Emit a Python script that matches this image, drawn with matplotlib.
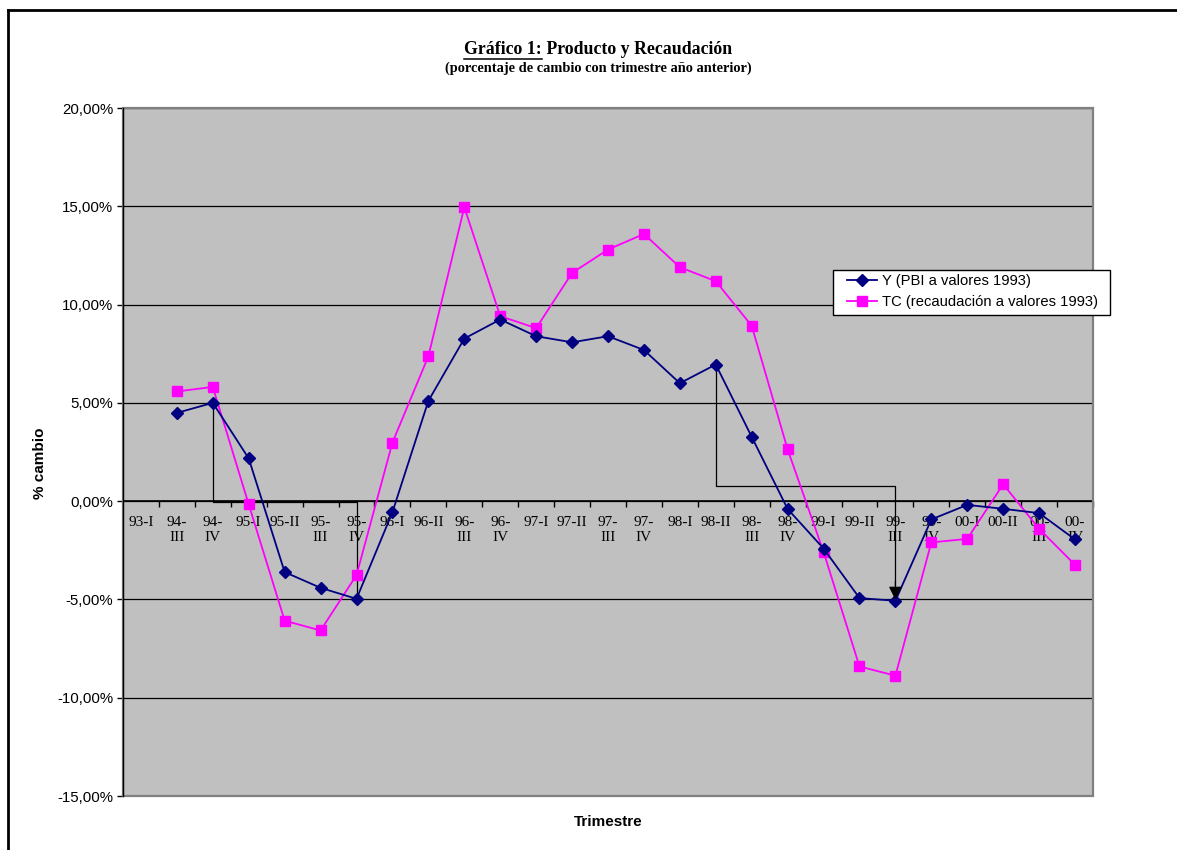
import matplotlib

matplotlib.use("Agg")
import matplotlib.pyplot as plt
from matplotlib import patches
from matplotlib.lines import Line2D
from matplotlib.ticker import FuncFormatter, MultipleLocator

W, H = 1177, 850

# ---- data ------------------------------------------------------------------
trimestres = ["93-I", "94-\nIII", "94-\nIV", "95-I", "95-II", "95-\nIII", "95-\nIV",
              "96-I", "96-II", "96-\nIII", "96-\nIV", "97-I", "97-II", "97-\nIII",
              "97-\nIV", "98-I", "98-II", "98-\nIII", "98-\nIV", "99-I", "99-II",
              "99-\nIII", "99-\nIV", "00-I", "00-II", "00-\nIII", "00-\nIV"]
# first quarter (93-I) has no value
y_pbi = [None, 4.49, 5.00, 2.17, -3.61, -4.41, -4.97, -0.56, 5.10, 8.27, 9.24, 8.39,
         8.08, 8.39, 7.69, 6.00, 6.95, 3.27, -0.40, -2.41, -4.93, -5.07, -0.93,
         -0.19, -0.39, -0.61, -1.95]
tc_rec = [None, 5.58, 5.81, -0.17, -6.08, -6.58, -3.76, 2.98, 7.37, 14.95, 9.41, 8.80,
          11.61, 12.80, 13.59, 11.90, 11.19, 8.92, 2.63, -2.58, -8.41, -8.88, -2.10,
          -1.92, 0.86, -1.41, -3.24]

NAVY = "#000080"
MAGENTA = "#ff00ff"
PLOT_BG = "#c0c0c0"
SERIF = "Liberation Serif"
SANS = "Liberation Sans"

fig = plt.figure(figsize=(W / 100, H / 100), dpi=100)
fig.patch.set_facecolor("white")

# outer chart frame (left + top edges visible, rest runs off the image)
fig.add_artist(Line2D([8 / W, 8 / W], [0, 1 - 10 / H], color="black", lw=2,
                      transform=fig.transFigure))
fig.add_artist(Line2D([8 / W, 1], [1 - 10 / H, 1 - 10 / H], color="black", lw=2,
                      transform=fig.transFigure))

ax = fig.add_axes([123 / W, 1 - 796 / H, 970 / W, 688 / H])
ax.set_facecolor(PLOT_BG)

x = list(range(len(trimestres)))
xs = [i for i, v in zip(x, y_pbi) if v is not None]
ax.plot(xs, [v for v in y_pbi if v is not None], color=NAVY, lw=1.3, marker="D",
        ms=6, mfc=NAVY, mec=NAVY, zorder=5, label="Y (PBI a valores 1993)")
ax.plot(xs, [v for v in tc_rec if v is not None], color=MAGENTA, lw=1.3, marker="s",
        ms=7.5, mfc=MAGENTA, mec=MAGENTA, zorder=4,
        label="TC (recaudación a valores 1993)")

ax.set_xlim(-0.5, len(trimestres) - 0.5)
ax.set_ylim(-15, 20)

# y axis
ax.yaxis.set_major_locator(MultipleLocator(5))
ax.yaxis.set_major_formatter(FuncFormatter(lambda v, _: f"{v:.2f}".replace(".", ",") + "%"))
ax.tick_params(axis="y", length=4, width=1, pad=3, labelsize=10.8, direction="out")
for lab in ax.get_yticklabels():
    lab.set_fontfamily(SANS)
ax.grid(axis="y", color="black", lw=0.9)
ax.set_axisbelow(True)

# category axis crosses at 0
for s in ("top", "right", "left"):
    ax.spines[s].set_visible(False)
ax.spines["bottom"].set_position(("data", 0))
ax.spines["bottom"].set_color("black")
ax.spines["bottom"].set_linewidth(1.2)
ax.set_xticks(x)
ax.set_xticklabels(trimestres, fontfamily=SERIF, fontsize=11, linespacing=1.15)
ax.set_xticks([i - 0.5 for i in range(1, len(trimestres) + 1)], minor=True)
ax.tick_params(axis="x", which="major", length=0, pad=11)
ax.tick_params(axis="x", which="minor", length=4, width=1, direction="out")

# plot-area border
ax.add_patch(patches.Rectangle((0, 0), 1, 1, transform=ax.transAxes, fill=False,
                               ec="#808080", lw=1.6, zorder=6, clip_on=False))
ax.plot([-0.5, -0.5], [-15, 20], color="black", lw=1, zorder=6, clip_on=False)

# connector lines drawn on the chart
k1, k2 = 2, 6
ax.plot([k1, k1, k2, k2], [y_pbi[k1], -0.05, -0.05, y_pbi[k2]], color="black",
        lw=0.9, zorder=3)
k3, k4 = 16, 21
ax.plot([k3, k3, k4, k4], [y_pbi[k3], 0.75, 0.75, y_pbi[k4] + 0.8], color="black",
        lw=0.9, zorder=3)
ax.annotate("", xy=(k4, y_pbi[k4] + 0.05), xytext=(k4, y_pbi[k4] + 1.0),
            arrowprops=dict(arrowstyle="-|>", color="black", lw=0.9,
                            mutation_scale=20, shrinkA=0, shrinkB=0), zorder=7)

# legend: own frame box, entries placed inside it
ax.add_patch(patches.Rectangle((833 / W, 1 - 315 / H), 277 / W, 45 / H,
                               transform=fig.transFigure, fc="white", ec="black",
                               lw=1, zorder=9, clip_on=False))
leg = ax.legend(loc="upper left", bbox_to_anchor=(847 / W, 1 - 274 / H),
                bbox_transform=fig.transFigure, frameon=False,
                prop={"family": SANS, "size": 10.6}, handlelength=2.05,
                borderaxespad=0, borderpad=0, labelspacing=0.5, handletextpad=0.3)
leg.set_zorder(10)

# axis titles
fig.text(608 / W, 1 - 822 / H, "Trimestre", ha="center", va="center",
         fontfamily=SANS, fontsize=11, fontweight="bold")
fig.text(40 / W, 1 - 463 / H, "% cambio", ha="center", va="center", rotation=90,
         fontfamily=SANS, fontsize=11, fontweight="bold")

# title with underlined lead
renderer = fig.canvas.get_renderer()
t1 = fig.text(0, 1 - 50 / H, "Gráfico 1:", ha="left", va="center",
              fontfamily=SERIF, fontsize=12.8, fontweight="bold")
t2 = fig.text(0, 1 - 50 / H, " Producto y Recaudación", ha="left", va="center",
              fontfamily=SERIF, fontsize=12.8, fontweight="bold")
w1 = t1.get_window_extent(renderer).width
w2 = t2.get_window_extent(renderer).width
x0 = 598 - (w1 + w2) / 2
t1.set_x(x0 / W)
t2.set_x((x0 + w1) / W)
fig.add_artist(Line2D([x0 / W, (x0 + w1) / W], [1 - 58.5 / H, 1 - 58.5 / H],
                      color="black", lw=1.1, transform=fig.transFigure))
fig.text(598 / W, 1 - 68 / H, "(porcentaje de cambio con trimestre año anterior)",
         ha="center", va="center", fontfamily=SERIF, fontsize=10.4, fontweight="bold")

fig.savefig("out.png", dpi=100, facecolor="white")
